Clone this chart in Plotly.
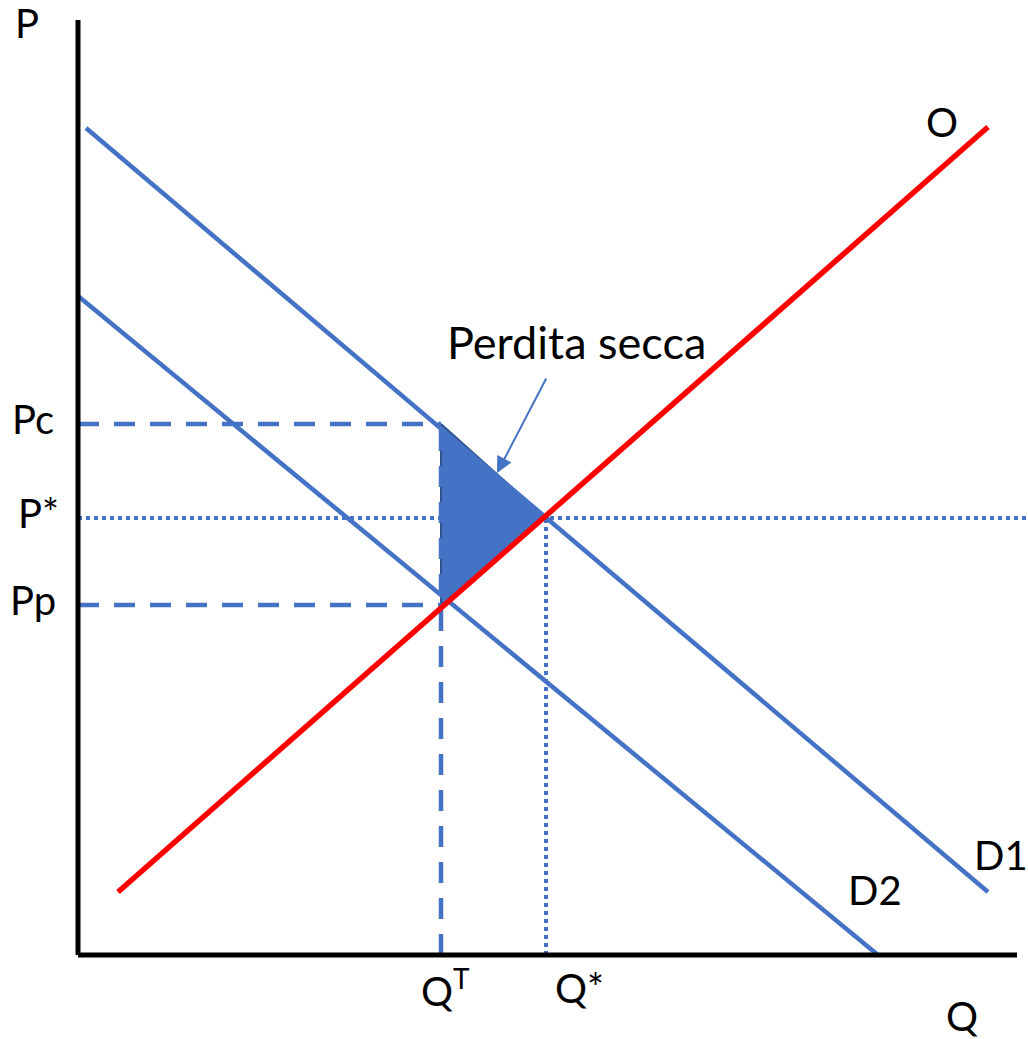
"""Tax incidence diagram: supply, two demand curves and deadweight loss."""

import plotly.graph_objects as go

BLUE = "#4472C4"
RED = "#FF0000"
DARK_BLUE = "#2F528F"
FONT = "Lato, 'Noto Sans', sans-serif"

# Curve endpoints in (Q, P) units, origin at the axes corner
supply_q = [40, 910]
supply_p = [63, 828]
demand1_q = [8, 910]
demand1_p = [827, 63]
demand2_q = [0, 800]
demand2_p = [659, 0]

# Reference levels
q_tax, q_star = 363, 468
p_cons, p_star, p_prod = 531, 437, 350
q_max, p_max = 939, 935
q_edge = 950

price_labels = ["Pc", "P*", "Pp"]
price_levels = [p_cons, p_star, p_prod]


def line(q, p, color, width, dash="solid"):
    return go.Scatter(
        x=q, y=p, mode="lines", hoverinfo="skip", showlegend=False,
        line={"color": color, "width": width, "dash": dash},
    )


fig = go.Figure()

# Deadweight-loss triangle
fig.add_trace(go.Scatter(
    x=[q_tax, q_star, q_tax, q_tax], y=[p_cons, p_star, p_prod, p_cons],
    mode="lines", fill="toself", fillcolor=BLUE, hoverinfo="skip",
    line={"color": DARK_BLUE, "width": 2}, showlegend=False,
))

# Guide lines
dashed = "21px,15px"
dotted = "4px,4px"
fig.add_trace(line([0, q_tax], [p_cons, p_cons], BLUE, 4.5, dashed))
fig.add_trace(line([0, q_tax], [p_prod, p_prod], BLUE, 4.5, dashed))
fig.add_trace(line([q_tax, q_tax], [0, p_cons], BLUE, 4.5, dashed))
fig.add_trace(line([0, q_edge], [p_star, p_star], BLUE, 4, dotted))
fig.add_trace(line([q_star, q_star], [0, p_star], BLUE, 4, dotted))

# Curves
fig.add_trace(line(demand1_q, demand1_p, BLUE, 4.5))
fig.add_trace(line(demand2_q, demand2_p, BLUE, 4.5))
fig.add_trace(line(supply_q, supply_p, RED, 5.5))

# Axes
fig.add_trace(line([0, 0], [0, p_max], "black", 5))
fig.add_trace(line([0, q_max], [0, 0], "black", 5))

text_font = {"family": FONT, "size": 40, "color": "black"}


def label(text, q, p, size=40):
    fig.add_annotation(x=q, y=p, text=text, showarrow=False,
                       font={**text_font, "size": size},
                       xanchor="center", yanchor="middle")


label("P", -51, 932)
for name, level, dq in zip(price_labels, price_levels, [-45, -40, -45]):
    label(name, dq, level + 5)
label("Q<sup>T</sup>", 367, -33)
label("Q*", q_star + 33, -33)
label("Q", 884, -61)
label("O", 864, 833)
label("D1", 923, 100)
label("D2", 797, 65)
label("Perdita secca", 498, 613, size=45)

# Arrow pointing at the triangle
fig.add_annotation(
    x=419, y=482, ax=469, ay=578, xref="x", yref="y", axref="x", ayref="y",
    text="", showarrow=True, arrowhead=2, arrowsize=1.6, arrowwidth=2,
    arrowcolor=BLUE,
)

fig.update_layout(
    width=1028,
    height=1039,
    margin={"l": 0, "r": 0, "t": 0, "b": 0},
    paper_bgcolor="white",
    plot_bgcolor="white",
    xaxis={"range": [-78, 950], "visible": False},
    yaxis={"range": [-84, 955], "visible": False},
)

fig.write_html(
    "out.html",
    config={"displayModeBar": False},
    post_script="document.body.style.margin='0';document.body.style.overflow='hidden';",
)
